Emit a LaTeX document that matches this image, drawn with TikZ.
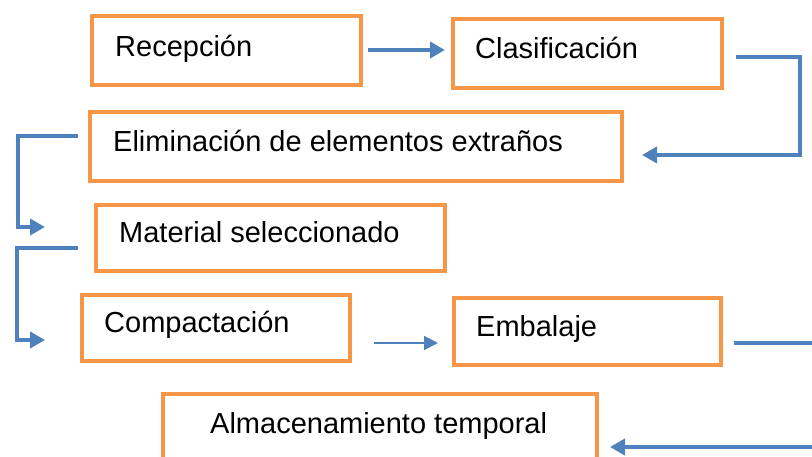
\documentclass[tikz,border=0pt]{standalone}
\usepackage{fontspec}
\setmainfont{Liberation Sans}
\usetikzlibrary{arrows.meta,calc}
\definecolor{boxorange}{HTML}{F79646}
\definecolor{linkblue}{HTML}{4F81BD}
\begin{document}
\begin{tikzpicture}[x=1pt,y=-1pt,
  box/.style={draw=boxorange, line width=4pt, fill=white, rectangle, inner sep=0pt},
  lbl/.style={anchor=base west, inner sep=0pt, font=\fontsize{29}{34}\selectfont},
  conn/.style={draw=linkblue, line width=4.5pt, -{Triangle[length=15pt,width=16pt]}},
  thin/.style={draw=linkblue, line width=2pt, -{Triangle[length=14pt,width=14pt]}}]
\useasboundingbox (0,0) rectangle (812,457);
\clip (0,0) rectangle (812,457);
\fill[white] (0,0) rectangle (812,457);
% boxes
\node[box, minimum width=269pt, minimum height=69pt] (rec) at (226.5,50.5) {};
\node[box, minimum width=269pt, minimum height=69pt] (cla) at (587.5,53.5) {};
\node[box, minimum width=532pt, minimum height=69pt] (eli) at (356,146.5) {};
\node[box, minimum width=349pt, minimum height=66pt] (mat) at (270.5,238) {};
\node[box, minimum width=268pt, minimum height=66pt] (com) at (216,328) {};
\node[box, minimum width=267pt, minimum height=67pt] (emb) at (587.5,331.5) {};
\node[box, minimum width=434pt, minimum height=80pt] (alm) at (380,434) {};
% texts
\node[lbl] (trec) at (115,57) {Recepción};
\node[lbl] (tcla) at (475,59) {Clasificación};
\node[lbl] (teli) at (113,152) {Eliminación de elementos extraños};
\node[lbl] (tmat) at (119,243) {Material seleccionado};
\node[lbl] (tcom) at (104,333) {Compactación};
\node[lbl] (temb) at (476,337) {Embalaje};
\node[lbl] (talm) at (210,433) {Almacenamiento temporal};
% connectors
\draw[conn] ($(rec.east)+(5,-0.5)$) -- ($(cla.west)+(-6,-3.5)$);
\draw[conn] ($(cla.east)+(12,3.5)$) -- ++(64,0) |- ($(eli.east)+(18,8.5)$);
\draw[conn] ($(eli.west)+(-10,-10.5)$) -- ++(-60,0) |- ($(mat.west)+(-49,-11)$);
\draw[conn] ($(mat.west)+(-16,10)$) -- ++(-61,0) |- ($(com.west)+(-35,12)$);
\draw[thin] ($(com.east)+(22,15)$) -- ($(emb.west)+(-14,11.5)$);
\draw[conn] ($(emb.east)+(11,11.5)$) -- ++(120,0) |- ($(alm.east)+(11,13)$);
\end{tikzpicture}
\end{document}
